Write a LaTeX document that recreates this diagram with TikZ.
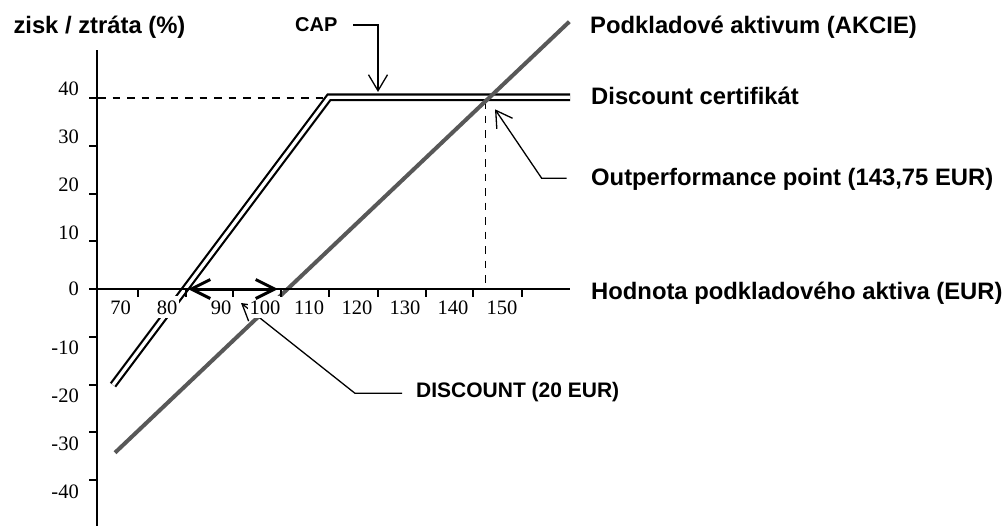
\documentclass[tikz,border=0pt]{standalone}
\usepackage{fontspec}
\setmainfont{Liberation Serif}
\newfontfamily\arialf{Liberation Sans}
\usetikzlibrary{arrows.meta}
\definecolor{ulgray}{RGB}{88,88,88}
\begin{document}
\begin{tikzpicture}[x=1pt,y=-1pt,
  big/.style={font=\arialf\bfseries\fontsize{23.8}{28}\selectfont, inner sep=0pt},
  mid/.style={font=\arialf\bfseries\fontsize{20}{24}\selectfont, inner sep=0pt},
  midb/.style={font=\arialf\bfseries\fontsize{21}{25}\selectfont, inner sep=0pt},
  num/.style={font=\fontsize{20.5}{24}\selectfont, inner sep=0pt},
  xnum/.style={num, fill=white, inner xsep=2pt, inner ysep=4pt, anchor=base},
  axisline/.style={line width=2pt},
  guide/.style={line width=1.5pt, dash pattern=on 7.5pt off 7pt},
  cert/.style={line width=2.2pt, double=white, double distance=3.3pt, line join=miter},
  asset/.style={line width=4pt, ulgray},
  callout/.style={line width=1.3pt, -{Straight Barb[length=16pt,width=19pt]}},
  span/.style={line width=3pt, {Straight Barb[length=19pt,width=19pt]}-{Straight Barb[length=19pt,width=19pt]}},
]
\useasboundingbox (0,0) rectangle (1006,525);

% named points
\coordinate (gA) at (98,98);   \coordinate (gB) at (346,98);
\coordinate (gC) at (485.5,101); \coordinate (gD) at (485.5,289);
\coordinate (cLow) at (113,385); \coordinate (cCorner) at (329,97.3); \coordinate (cEnd) at (570,97.3);
\coordinate (aLow) at (115,452.7); \coordinate (aHigh) at (569.3,21.7);
\coordinate (yTop) at (97,50); \coordinate (yBot) at (97,530);
\coordinate (xL) at (89,289); \coordinate (xR) at (570,289);

% dashed guides
\draw[guide] (gA) -- (gB);
\draw[guide] (gC) -- (gD);

% discount certificate (double line)
\draw[cert] (cLow) -- (cCorner) -- (cEnd);
% underlying asset
\draw[asset] (aLow) -- (aHigh);

% discount callout (under the tick labels)
\node[midb, anchor=base west] (disc) at (416,397.3) {DISCOUNT (20 EUR)};
\coordinate (dsS) at (402,393.3); \coordinate (dsB) at (355,393.3); \coordinate (dsT) at (241,303);
\draw[callout] (dsS) -- (dsB) -- (dsT);

% x tick labels
\foreach \t/\x in {70/120.5,80/167,90/221,100/265,110/309,120/357,130/405,140/453,150/502}
  \node[xnum] (xl\t) at (\x,314) {\t};

% axes and ticks
\draw[axisline] (yTop) -- (yBot);
\draw[axisline] (xL) -- (xR);
\foreach \y in {97.7,145.6,193.5,241.4,336.6,384.5,432.4,480.3}
  \draw[axisline] (89,\y) -- (97,\y);
\foreach \x in {138,186,233,281,329,378,426,473,522}
  \draw[axisline] (\x,289) -- (\x,297);

% y tick labels
\foreach \t/\b in {40/95,30/143,20/191,10/239,0/295,-10/354,-20/402,-30/450,-40/498}
  \node[num, anchor=base east] (yl\t) at (79,\b) {\t};

% discount span arrow
\coordinate (spL) at (188,289); \coordinate (spR) at (278,289);
\draw[span] (spL) -- (spR);

% titles and labels
\node[big, anchor=base west] (ytitle) at (13.3,33.3) {zisk / ztráta (\%)};
\node[mid, anchor=base west] (cap) at (295,31.7) {CAP};
\node[big, anchor=base west] (lasset) at (590,33.3) {Podkladové aktivum (AKCIE)};
\node[big, anchor=base west] (lcert) at (591,104.3) {Discount certifikát};
\node[big, anchor=base west] (lop) at (591,185) {Outperformance point (143,75 EUR)};
\node[big, anchor=base west] (lx) at (591,299.3) {Hodnota podkladového aktiva (EUR)};

% CAP callout
\coordinate (capS) at (353,25); \coordinate (capB) at (378,25); \coordinate (capT) at (378,92);
\draw[callout] (capS) -- (capB) -- (capT);
% outperformance callout
\coordinate (opS) at (566.7,178.3); \coordinate (opB) at (541.7,178.3); \coordinate (opT) at (495,109.3);
\draw[callout] (opS) -- (opB) -- (opT);
\end{tikzpicture}
\end{document}
